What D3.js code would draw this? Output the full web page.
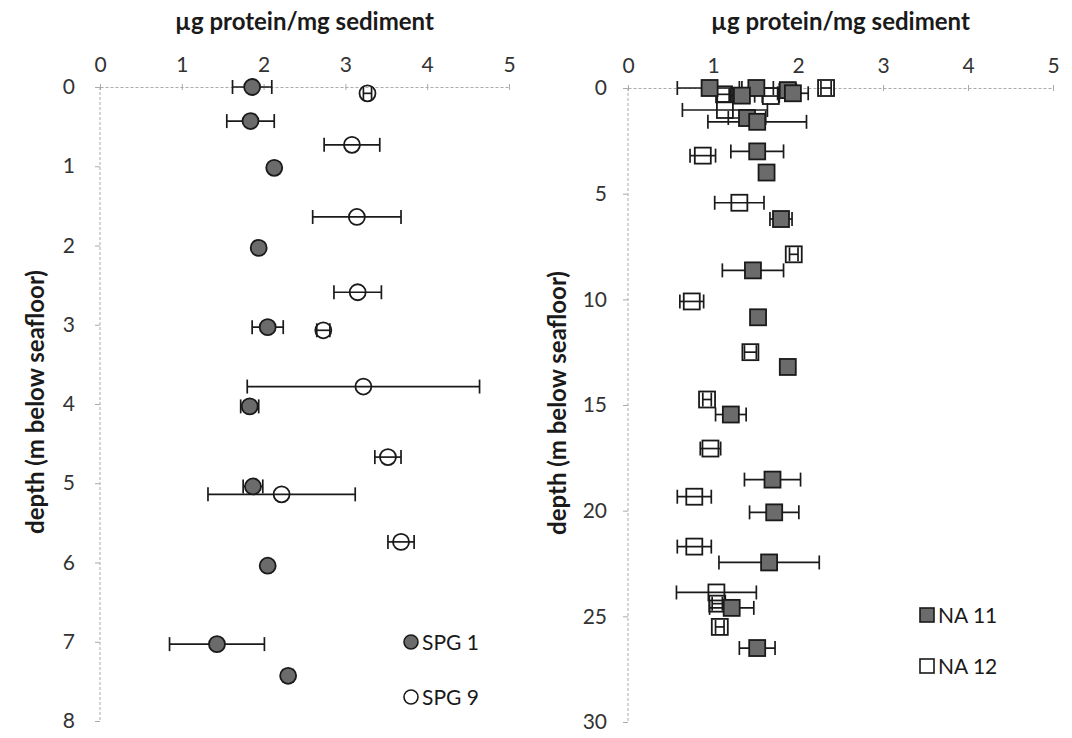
<!DOCTYPE html>
<html>
<head>
<meta charset="utf-8">
<script src="https://cdnjs.cloudflare.com/ajax/libs/d3/7.8.5/d3.min.js"></script>
<style>
  html, body { margin: 0; padding: 0; background: #fff; }
  svg { display: block; }
  text { font-family: Lato, "Open Sans", sans-serif; }
</style>
</head>
<body>
<svg id="chart" width="1072" height="738"></svg>
<script>
// Protein content profiles, SPG cores (left) and NA cores (right)
const xTicks = [0, 1, 2, 3, 4, 5];
const spgDepthTicks = [0, 1, 2, 3, 4, 5, 6, 7, 8];
const naDepthTicks = [0, 5, 10, 15, 20, 25, 30];

// SPG 1
const spg1Depth   = [0, 0.43, 1.02, 2.03, 3.03, 4.03, 5.04, 6.04, 7.03, 7.43];
const spg1Protein = [1.86, 1.84, 2.13, 1.94, 2.05, 1.83, 1.87, 2.05, 1.43, 2.30];
const spg1Err     = [0.24, 0.29, 0, 0, 0.19, 0.11, 0.12, 0, 0.58, 0.06];

// SPG 9
const spg9Depth   = [0.08, 0.73, 1.64, 2.59, 3.07, 3.78, 4.67, 5.14, 5.74];
const spg9Protein = [3.27, 3.08, 3.14, 3.15, 2.73, 3.22, 3.52, 2.22, 3.68];
const spg9Err     = [0.05, 0.34, 0.54, 0.29, 0.08, 1.42, 0.16, 0.90, 0.16];

// NA 11
const na11Depth   = [0, 0, 0.36, 0.1, 0.25, 1.42, 1.6, 3.0, 4.0, 6.2, 8.63, 10.85, 13.2, 15.45, 18.53, 20.08, 22.45, 24.6, 26.5];
const na11Protein = [0.96, 1.51, 1.34, 1.88, 1.94, 1.40, 1.52, 1.52, 1.63, 1.80, 1.47, 1.53, 1.88, 1.21, 1.70, 1.72, 1.66, 1.22, 1.52];
const na11Err     = [0.38, 0.2, 0.15, 0.1, 0.18, 0.22, 0.58, 0.31, 0, 0.13, 0.36, 0, 0, 0.18, 0.33, 0.29, 0.59, 0.26, 0.21];

// NA 12
const na12Depth   = [0, 0.38, 0.3, 1.04, 3.2, 5.43, 7.87, 10.1, 12.5, 14.74, 17.06, 19.34, 21.7, 23.87, 24.4, 25.5];
const na12Protein = [2.33, 1.68, 1.13, 1.14, 0.88, 1.31, 1.95, 0.75, 1.44, 0.93, 0.97, 0.78, 0.78, 1.04, 1.05, 1.08];
const na12Err     = [0.06, 0.1, 0.08, 0.5, 0.15, 0.29, 0.05, 0.14, 0.07, 0.05, 0.12, 0.2, 0.2, 0.47, 0.06, 0.05];

const FILL_GREY = "#6b6b6b";
const INK = "#1a1a1a";
const AXIS_GREY = "#ababab";
const LABEL_GREY = "#333";

const svg = d3.select("#chart");

function zip(depth, protein, err) {
  return depth.map((d, i) => ({ depth: d, value: protein[i], err: err[i] }));
}

function panel(opts) {
  const x = d3.scaleLinear().domain([0, 5]).range(opts.xRange);
  const y = d3.scaleLinear().domain(opts.yDomain).range(opts.yRange);
  const g = svg.append("g");

  // x axis along the top (seafloor)
  const xAxis = d3.axisTop(x).tickValues(xTicks).tickSize(0).tickPadding(0).tickFormat(d3.format("d"));
  const xa = g.append("g").attr("transform", `translate(0,${opts.yRange[0]})`).call(xAxis);
  xa.select(".domain").attr("stroke", AXIS_GREY).attr("stroke-dasharray", "3,2");
  xa.selectAll(".tick text").attr("y", -15).attr("font-size", 21).attr("fill", LABEL_GREY);
  xa.selectAll(".tick").append("line").attr("y1", -3).attr("y2", 3).attr("stroke", AXIS_GREY);

  // depth axis
  const yAxis = d3.axisLeft(y).tickValues(opts.yTicks).tickSize(5).tickPadding(opts.yPad).tickFormat(d3.format("d"));
  const ya = g.append("g").attr("transform", `translate(${opts.xRange[0]},0)`).call(yAxis);
  ya.select(".domain").attr("stroke", AXIS_GREY).attr("stroke-dasharray", "3,2").attr("d",
    `M0,${opts.yRange[0]}V${opts.yRange[1]}`);
  ya.selectAll(".tick line").attr("stroke", AXIS_GREY);
  ya.selectAll(".tick text").attr("font-size", 21).attr("fill", LABEL_GREY);

  // axis titles
  g.append("text")
    .attr("x", d3.mean(opts.xRange)).attr("y", 30)
    .attr("text-anchor", "middle").attr("font-weight", "bold").attr("font-size", 24)
    .attr("fill", INK).text("µg protein/mg sediment");
  g.append("text")
    .attr("transform", `translate(${opts.yTitleX},${(opts.yRange[0] + opts.yRange[1]) / 2 - 2}) rotate(-90)`)
    .attr("text-anchor", "middle").attr("font-weight", "bold").attr("font-size", 24)
    .attr("fill", INK).text("depth (m below seafloor)");

  // series: open markers first, filled markers on top
  opts.series.forEach(s => {
    const data = zip(s.depth, s.protein, s.err);
    const sg = g.append("g");
    const bars = sg.selectAll("g.err").data(data.filter(d => d.err > 0)).join("g").attr("class", "err");
    bars.append("line")
      .attr("x1", d => x(d.value - d.err)).attr("x2", d => x(d.value + d.err))
      .attr("y1", d => y(d.depth)).attr("y2", d => y(d.depth));
    bars.append("line")
      .attr("x1", d => x(d.value - d.err)).attr("x2", d => x(d.value - d.err))
      .attr("y1", d => y(d.depth) - 7).attr("y2", d => y(d.depth) + 7);
    bars.append("line")
      .attr("x1", d => x(d.value + d.err)).attr("x2", d => x(d.value + d.err))
      .attr("y1", d => y(d.depth) - 7).attr("y2", d => y(d.depth) + 7);
    bars.selectAll("line").attr("stroke", INK).attr("stroke-width", 1.7);

    const fill = s.filled ? FILL_GREY : "#fff";
    if (s.shape === "circle") {
      sg.selectAll("circle").data(data).join("circle")
        .attr("cx", d => x(d.value)).attr("cy", d => y(d.depth)).attr("r", 8)
        .attr("fill", s.filled ? FILL_GREY : "none").attr("stroke", INK).attr("stroke-width", 1.8);
    } else {
      sg.selectAll("rect").data(data).join("rect")
        .attr("x", d => x(d.value) - 8).attr("y", d => y(d.depth) - 8)
        .attr("width", 16).attr("height", 16)
        .attr("fill", s.filled ? FILL_GREY : "none").attr("stroke", INK).attr("stroke-width", 1.8);
    }
    // error bars stay visible through open markers
    if (!s.filled) bars.raise();

    // legend entry
    const lg = g.append("g").attr("transform", `translate(${s.legend[0]},${s.legend[1]})`);
    if (s.shape === "circle") {
      lg.append("circle").attr("r", 7).attr("fill", fill).attr("stroke", INK).attr("stroke-width", 1.6);
    } else {
      lg.append("rect").attr("x", -7).attr("y", -7).attr("width", 14).attr("height", 14)
        .attr("fill", fill).attr("stroke", INK).attr("stroke-width", 1.6);
    }
    lg.append("text").attr("x", 11).attr("y", 8).attr("font-size", 21).attr("fill", INK).text(s.name);
  });
}

panel({
  xRange: [100, 509], yDomain: [0, 8], yRange: [87, 721],
  yTicks: spgDepthTicks, yPad: 20, yTitleX: 44,
  series: [
    { name: "SPG 9", shape: "circle", filled: false, depth: spg9Depth, protein: spg9Protein, err: spg9Err, legend: [411, 697] },
    { name: "SPG 1", shape: "circle", filled: true, depth: spg1Depth, protein: spg1Protein, err: spg1Err, legend: [411, 642] }
  ]
});

panel({
  xRange: [628, 1053], yDomain: [0, 30], yRange: [88, 722],
  yTicks: naDepthTicks, yPad: 16, yTitleX: 566,
  series: [
    { name: "NA 12", shape: "square", filled: false, depth: na12Depth, protein: na12Protein, err: na12Err, legend: [927, 666] },
    { name: "NA 11", shape: "square", filled: true, depth: na11Depth, protein: na11Protein, err: na11Err, legend: [927, 615] }
  ]
});
</script>
</body>
</html>
